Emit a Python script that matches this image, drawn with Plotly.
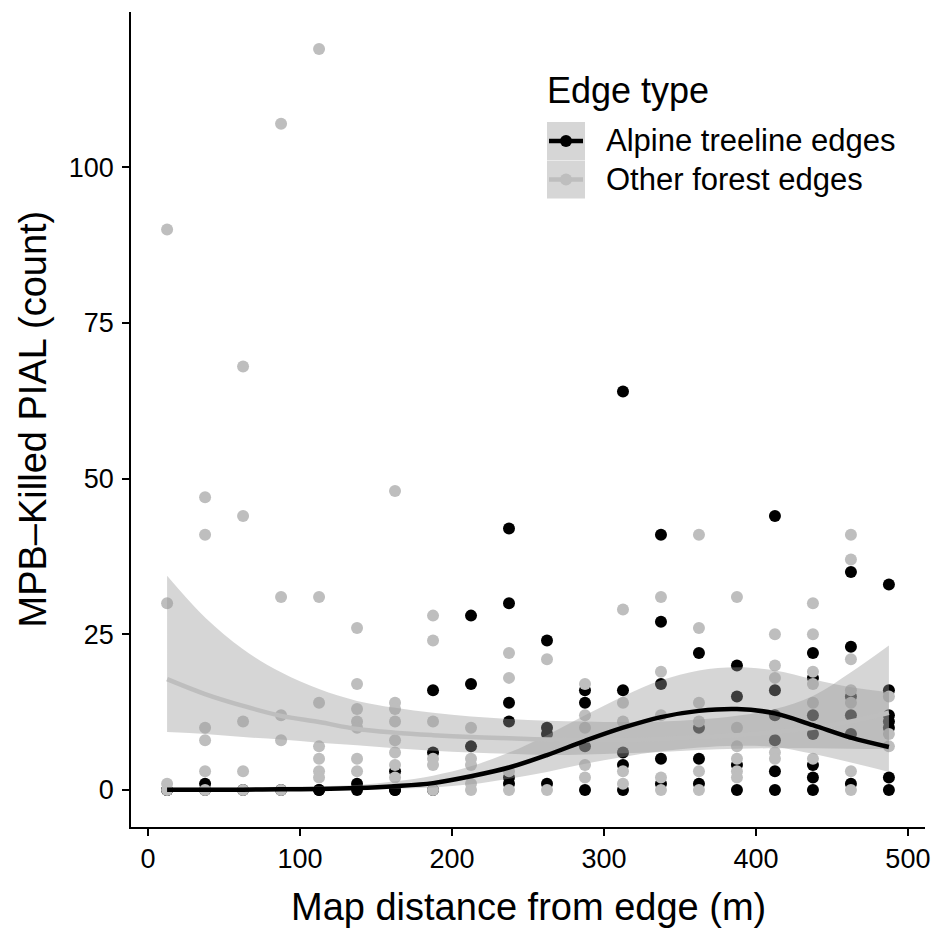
import plotly.graph_objects as go

# Distance bins (bin centres, m)
distance_bins = [12.5, 37.5, 62.5, 87.5, 112.5, 137.5, 162.5, 187.5, 212.5, 237.5,
                 262.5, 287.5, 312.5, 337.5, 362.5, 387.5, 412.5, 437.5, 462.5, 487.5]

# MPB-killed PIAL counts per plot, grouped by distance bin
alpine_counts = [
    [0, 0], [1, 0], [0], [0], [0, 0], [1, 0], [3, 0, 0], [16, 6, 0],
    [28, 17, 7], [42, 30, 14, 11, 2, 1], [24, 10, 9, 1], [16, 14, 7, 0],
    [64, 16, 6, 4, 0], [41, 27, 17, 5, 1], [22, 10, 5, 1], [20, 15, 4, 0],
    [44, 16, 12, 8, 3, 0], [22, 18, 12, 9, 4, 2, 0], [35, 23, 15, 12, 9, 1],
    [33, 16, 12, 11, 10, 2, 0],
]
other_counts = [
    [90, 30, 1, 0], [47, 41, 10, 8, 3, 0], [68, 44, 11, 3, 0], [107, 31, 12, 8, 0],
    [119, 31, 14, 7, 5, 3, 2], [26, 17, 13, 11, 10, 5, 3], [48, 14, 13, 11, 8, 6, 4, 2],
    [28, 24, 11, 5, 4, 0], [10, 5, 4, 1, 0], [22, 18, 3, 0], [21, 0],
    [17, 12, 10, 4, 2], [29, 14, 11, 3, 1], [31, 19, 12, 2, 0], [41, 26, 14, 11, 3, 0],
    [31, 10, 7, 5, 3, 2], [25, 20, 18, 6, 5], [30, 25, 19, 17, 14, 5],
    [41, 37, 21, 16, 14, 3, 0], [15, 9, 7],
]

# Smoothed fits with confidence bands, evaluated at the bin centres
alpine_fit = [0.02, 0.03, 0.05, 0.1, 0.15, 0.3, 0.6, 1.1, 2.2, 3.6,
              5.6, 7.9, 10.0, 11.7, 12.7, 13.0, 12.3, 10.4, 8.4, 6.9]
alpine_hi = [0.4, 0.4, 0.4, 0.5, 0.6, 0.8, 1.4, 2.3, 3.8, 6.0,
             8.8, 12.0, 15.0, 17.6, 19.2, 19.7, 19.2, 17.8, 16.5, 15.7]
alpine_lo = [0.0, 0.0, 0.0, 0.0, 0.0, 0.0, 0.2, 0.4, 0.9, 1.8,
             2.9, 4.2, 5.3, 6.2, 6.8, 7.1, 6.9, 5.8, 4.4, 2.9]
other_fit = [17.8, 15.4, 13.5, 11.9, 10.9, 9.8, 9.2, 8.8, 8.5, 8.3,
             8.1, 8.0, 8.0, 8.2, 8.5, 8.8, 9.3, 10.0, 11.0, 12.4]
other_hi = [34.4, 27.7, 22.6, 18.9, 16.2, 14.3, 13.2, 12.4, 11.8, 11.4,
            11.1, 11.0, 10.9, 11.0, 11.3, 11.9, 13.0, 15.1, 18.9, 23.2]
other_lo = [9.3, 9.0, 8.5, 8.1, 7.6, 7.2, 6.7, 6.3, 6.0, 5.8,
            5.6, 5.7, 5.9, 6.1, 6.4, 6.6, 6.7, 6.7, 6.6, 6.6]

series_names = ["Alpine treeline edges", "Other forest edges"]
x_ticks = [0, 100, 200, 300, 400, 500]
y_ticks = [0, 25, 50, 75, 100]

BLACK = "#000000"
GREY = "#bebebe"
BAND = "rgba(153,153,153,0.4)"
FONT = "Liberation Sans, Arial, Helvetica, sans-serif"
LINE_W = 4.5

W, H = 941, 937
ML, MR, MT, MB = 131, 16, 12, 110
PW, PH = W - ML - MR, H - MT - MB


def px_x(px):
    return (px - ML) / PW


def px_y(py):
    return (H - MB - py) / PH


def flatten(groups):
    xs, ys = [], []
    for xb, vals in zip(distance_bins, groups):
        for v in vals:
            xs.append(xb)
            ys.append(v)
    return xs, ys


fig = go.Figure()

ax, ay = flatten(alpine_counts)
ox, oy = flatten(other_counts)
fig.add_trace(go.Scatter(x=ax, y=ay, mode="markers", showlegend=False,
                         marker=dict(color=BLACK, size=12, line=dict(width=0))))
fig.add_trace(go.Scatter(x=ox, y=oy, mode="markers", showlegend=False,
                         marker=dict(color=GREY, size=12, line=dict(width=0))))

# confidence bands drawn over the points
for lo, hi in [(other_lo, other_hi), (alpine_lo, alpine_hi)]:
    fig.add_trace(go.Scatter(x=distance_bins, y=lo, mode="lines", showlegend=False,
                             line=dict(width=0, shape="spline", smoothing=1.0),
                             hoverinfo="skip"))
    fig.add_trace(go.Scatter(x=distance_bins, y=hi, mode="lines", showlegend=False,
                             fill="tonexty", fillcolor=BAND,
                             line=dict(width=0, shape="spline", smoothing=1.0),
                             hoverinfo="skip"))

fig.add_trace(go.Scatter(x=distance_bins, y=other_fit, mode="lines", showlegend=False,
                         name=series_names[1],
                         line=dict(color=GREY, width=LINE_W, shape="spline", smoothing=1.0)))
fig.add_trace(go.Scatter(x=distance_bins, y=alpine_fit, mode="lines", showlegend=False,
                         name=series_names[0],
                         line=dict(color=BLACK, width=LINE_W, shape="spline", smoothing=1.0)))

# hand-drawn legend: key background, line, point and label for each group
shapes = []
annotations = []
key_x0, key_x1 = 547, 585
key_tops = [122, 160.5]
key_h = 38
colors = [BLACK, GREY]
for name, top, col in zip(series_names, key_tops, colors):
    shapes.append(dict(type="rect", xref="paper", yref="paper",
                       x0=px_x(key_x0), x1=px_x(key_x1),
                       y0=px_y(top + key_h), y1=px_y(top),
                       fillcolor="#d6d6d6", line=dict(width=0), layer="above"))
    cy = top + key_h / 2
    shapes.append(dict(type="line", xref="paper", yref="paper",
                       x0=px_x(key_x0 + 2), x1=px_x(key_x1 - 2),
                       y0=px_y(cy), y1=px_y(cy),
                       line=dict(color=col, width=LINE_W), layer="above"))
    shapes.append(dict(type="circle", xref="paper", yref="paper",
                       x0=px_x(566 - 6), x1=px_x(566 + 6),
                       y0=px_y(cy + 6), y1=px_y(cy - 6),
                       fillcolor=col, line=dict(width=0), layer="above"))
    annotations.append(dict(text=name, xref="paper", yref="paper",
                            x=px_x(604), y=px_y(cy), xanchor="left", yanchor="middle",
                            showarrow=False, font=dict(family=FONT, size=31, color="black")))

annotations.append(dict(text="Edge type", xref="paper", yref="paper",
                        x=px_x(545), y=px_y(90), xanchor="left", yanchor="middle",
                        showarrow=False, font=dict(family=FONT, size=36, color="black")))

# axis titles
annotations.append(dict(text="Map distance from edge (m)", xref="paper", yref="paper",
                        x=0.5, y=px_y(907), xanchor="center", yanchor="middle",
                        showarrow=False, font=dict(family=FONT, size=38, color="black")))
annotations.append(dict(text="MPB–Killed PIAL (count)", xref="paper", yref="paper",
                        x=px_x(32), y=0.5, xanchor="center", yanchor="middle",
                        textangle=-90, showarrow=False,
                        font=dict(family=FONT, size=38, color="black")))

axis_common = dict(showgrid=False, zeroline=False, showline=True, linecolor="black",
                   linewidth=1.6, ticks="outside", ticklen=7, tickwidth=1.5,
                   tickcolor="black", tickfont=dict(family=FONT, size=27, color="black"))

fig.update_layout(
    width=W, height=H, autosize=False,
    margin=dict(l=ML, r=MR, t=MT, b=MB, pad=0),
    paper_bgcolor="white", plot_bgcolor="white",
    showlegend=False,
    xaxis=dict(range=[-11.25, 511.25], tickvals=x_ticks, ticklabelstandoff=0, **axis_common),
    yaxis=dict(range=[-5.95, 124.95], tickvals=y_ticks, ticklabelstandoff=3, **axis_common),
    shapes=shapes, annotations=annotations,
)

fig.write_html("out.html")
